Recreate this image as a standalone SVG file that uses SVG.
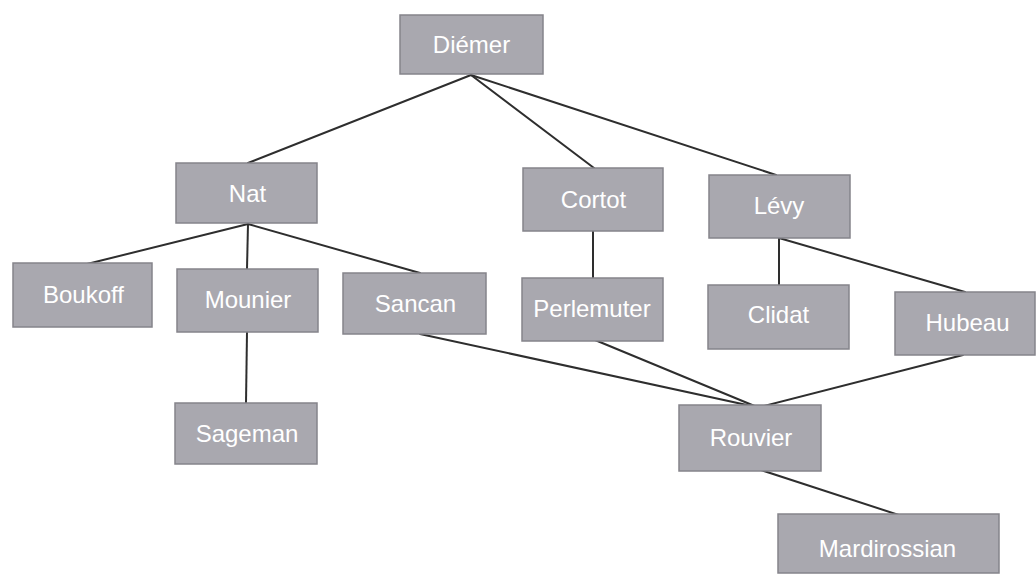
<svg xmlns="http://www.w3.org/2000/svg" width="1036" height="578" viewBox="0 0 1036 578">
<style>
.box{fill:#a9a8af;stroke:#85848b;stroke-width:1.5}
.lbl{font-family:"Liberation Sans",Arial,sans-serif;font-size:24px;fill:#ffffff;text-anchor:middle}
.edge{stroke:#2e2e2e;stroke-width:2;fill:none;stroke-linecap:round}
</style>
<rect width="1036" height="578" fill="#ffffff"/>
<g id="connectors">
<line class="edge" x1="471" y1="75" x2="248" y2="163"/>
<line class="edge" x1="471" y1="75" x2="594" y2="168"/>
<line class="edge" x1="471" y1="75" x2="776" y2="175"/>
<line class="edge" x1="248" y1="224" x2="83" y2="265"/>
<line class="edge" x1="248" y1="224" x2="247" y2="269"/>
<line class="edge" x1="248" y1="224" x2="420" y2="273"/>
<line class="edge" x1="247" y1="332" x2="246" y2="403"/>
<line class="edge" x1="593" y1="231" x2="593" y2="278"/>
<line class="edge" x1="779" y1="238" x2="779" y2="285"/>
<line class="edge" x1="779" y1="238" x2="965" y2="292"/>
<line class="edge" x1="420" y1="334" x2="756" y2="407"/>
<line class="edge" x1="595" y1="340" x2="757" y2="407"/>
<line class="edge" x1="963" y1="355" x2="760" y2="407"/>
<line class="edge" x1="761" y1="470" x2="908" y2="518"/>
</g>
<g id="n-diemer"><rect class="box" x="400" y="15" width="143" height="59"/><text class="lbl" x="471.5" y="53">Diémer</text></g>
<g id="n-nat"><rect class="box" x="176" y="163" width="141" height="60"/><text class="lbl" x="247.5" y="202">Nat</text></g>
<g id="n-cortot"><rect class="box" x="523" y="168" width="140" height="63"/><text class="lbl" x="593.5" y="208">Cortot</text></g>
<g id="n-levy"><rect class="box" x="709" y="175" width="141" height="63"/><text class="lbl" x="779" y="214">Lévy</text></g>
<g id="n-boukoff"><rect class="box" x="13" y="263" width="139" height="64"/><text class="lbl" x="83.5" y="303">Boukoff</text></g>
<g id="n-mounier"><rect class="box" x="177" y="269" width="141" height="63"/><text class="lbl" x="248" y="308">Mounier</text></g>
<g id="n-sancan"><rect class="box" x="343" y="273" width="143" height="61"/><text class="lbl" x="415.5" y="312">Sancan</text></g>
<g id="n-perlemuter"><rect class="box" x="522" y="278" width="141" height="63"/><text class="lbl" x="592" y="317">Perlemuter</text></g>
<g id="n-clidat"><rect class="box" x="708" y="285" width="141" height="64"/><text class="lbl" x="778.5" y="323">Clidat</text></g>
<g id="n-hubeau"><rect class="box" x="895" y="292" width="140" height="63"/><text class="lbl" x="967.5" y="331">Hubeau</text></g>
<g id="n-sageman"><rect class="box" x="175" y="403" width="142" height="61"/><text class="lbl" x="247" y="442">Sageman</text></g>
<g id="n-rouvier"><rect class="box" x="679" y="405" width="142" height="66"/><text class="lbl" x="751" y="446">Rouvier</text></g>
<g id="n-mardirossian"><rect class="box" x="778" y="514" width="221" height="59"/><text class="lbl" x="887.5" y="557">Mardirossian</text></g>
</svg>
